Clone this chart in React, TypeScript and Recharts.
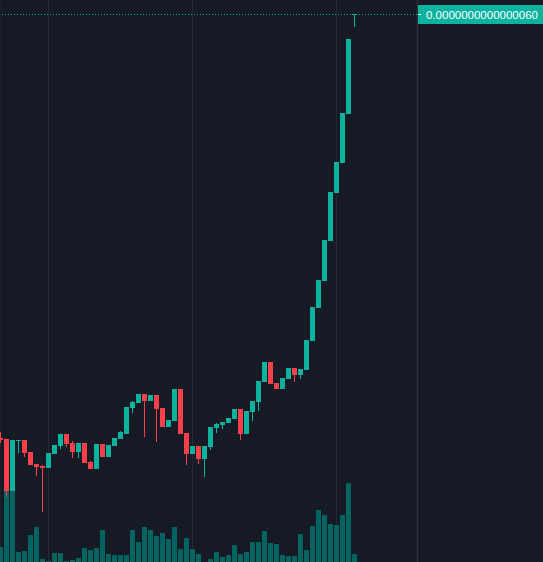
import { ComposedChart, Bar, XAxis, YAxis, CartesianGrid, ReferenceLine } from 'recharts'

// prices in units of 1e-16
const opens = [
  17.6, 17.5, 12.3, 17.3, 17.4, 16.2, 15.0, 14.8, 14.6, 16.0,
  16.8, 18.0, 17.1, 16.2, 17.1, 15.2, 14.5, 17.0, 15.7, 16.8,
  17.5, 18.0, 20.6, 21.1, 22.0, 21.3, 21.9, 20.6, 18.7, 19.3,
  22.5, 18.1, 16.0, 16.8, 15.5, 16.7, 18.6, 18.9, 19.1, 19.5,
  20.5, 18.0, 20.2, 21.2, 23.2, 25.2, 23.1, 22.5, 23.5, 24.6,
  23.9, 24.4, 27.3, 30.6, 33.3, 37.3, 42.1, 45.1, 50.0, 59.9,
]
const highs = [
  18.2, 17.5, 17.4, 17.4, 17.4, 16.2, 15.0, 14.9, 16.1, 16.9,
  18.0, 18.0, 17.3, 17.1, 17.1, 15.3, 17.0, 17.0, 16.9, 17.6,
  18.3, 20.7, 21.3, 22.0, 22.0, 21.9, 21.9, 20.6, 19.4, 22.5,
  22.5, 18.1, 16.8, 16.8, 16.8, 18.7, 19.1, 19.2, 19.6, 20.5,
  20.5, 20.3, 21.3, 23.3, 25.2, 25.2, 23.1, 23.6, 24.6, 24.6,
  24.5, 27.4, 30.7, 33.4, 37.4, 42.2, 45.2, 50.1, 57.5, 60.0,
]
const lows = [
  17.1, 11.7, 12.3, 16.1, 15.7, 14.9, 13.8, 10.2, 14.6, 16.0,
  16.5, 16.7, 15.6, 15.6, 15.1, 14.5, 14.5, 15.7, 15.7, 16.8,
  17.5, 18.0, 20.1, 21.1, 17.7, 21.3, 17.2, 18.7, 18.7, 19.3,
  18.0, 14.9, 16.0, 15.0, 13.7, 16.4, 18.1, 18.5, 19.1, 19.5,
  17.4, 18.0, 19.3, 20.3, 23.2, 23.0, 22.5, 22.5, 23.5, 23.2,
  23.5, 24.4, 27.3, 30.6, 33.3, 37.3, 42.1, 45.1, 50.0, 58.7,
]
const closes = [
  17.4, 12.3, 17.4, 17.4, 16.1, 14.9, 14.7, 14.6, 16.1, 16.9,
  18.0, 17.0, 16.2, 17.1, 15.1, 14.5, 17.0, 15.7, 16.9, 17.6,
  18.2, 20.7, 21.2, 22.0, 21.3, 21.9, 20.5, 18.7, 19.4, 22.5,
  18.0, 16.0, 16.8, 15.5, 16.8, 18.7, 19.0, 19.2, 19.6, 20.5,
  18.0, 20.3, 21.3, 23.3, 25.2, 23.0, 22.5, 23.6, 24.6, 23.9,
  24.5, 27.4, 30.7, 33.4, 37.4, 42.2, 45.2, 50.1, 57.5, 60.0,
]
const volumes = [
  15, 84, 80, 10, 11, 27, 35, 3, 1, 9,
  9, 1, 2, 4, 14, 12, 14, 32, 8, 7,
  7, 7, 32, 20, 35, 32, 26, 29, 23, 35,
  13, 24, 13, 8, 0, 3, 10, 5, 7, 17,
  8, 10, 20, 20, 31, 19, 18, 7, 6, 6,
  28, 12, 36, 52, 47, 38, 37, 47, 79, 8,
]
const lastPrice = 60
const lastPriceLabel = '0.0000000000000060'
const gridTicks = [8, 32, 56]

const UP = '#0bb39f'
const DOWN = '#f8404a'
const VOL = '#026460'
const BG = '#161a25'

const data = opens.map((o, i) => ({ i, o, h: highs[i], l: lows[i], c: closes[i], v: volumes[i] }))

function Candle(props: any) {
  const { x, y, width, height, payload } = props
  const top = Math.min(y, y + height)
  const bottom = Math.max(y, y + height)
  const range = payload.h - payload.l
  const toPx = (v: number) => (range > 0 ? top + ((payload.h - v) / range) * (bottom - top) : top)
  const left = Math.round(x + width / 2 - 2.4)
  const color = payload.c >= payload.o ? UP : DOWN
  const bodyTop = Math.round(toPx(Math.max(payload.o, payload.c)))
  const bodyBottom = Math.round(toPx(Math.min(payload.o, payload.c)))
  const wTop = Math.round(top)
  const wBottom = Math.round(bottom)
  return (
    <g>
      <rect x={left + 2} y={wTop} width={1} height={Math.max(1, wBottom - wTop)} fill={color} />
      <rect x={left} y={bodyTop} width={5} height={Math.max(1, bodyBottom - bodyTop)} fill={color} />
    </g>
  )
}

function VolumeBar(props: any) {
  const { x, y, width, height } = props
  if (!height) return null
  const left = Math.round(x + width / 2 - 2.4)
  return <rect x={left} y={y} width={5} height={height} fill={VOL} />
}

function PriceLine(props: any) {
  const { x1, y1, x2, y2 } = props
  return <line x1={x1} y1={y1 + 0.5} x2={x2} y2={y2 + 0.5} stroke={UP} strokeWidth={1} strokeDasharray="1 2" />
}

function PriceLabel(props: any) {
  const vb = props.viewBox || {}
  const x = vb.x + vb.width
  const y = vb.y
  return (
    <g>
      <rect x={x} y={y - 9} width={126} height={19} fill={UP} />
      <rect x={x} y={y} width={4} height={1} fill="#ffffff" />
      <text x={x + 9} y={y + 5} fill="#ffffff" fontSize={11.5} fontFamily="'Liberation Sans', Arial, sans-serif">
        {lastPriceLabel}
      </text>
    </g>
  )
}

export default function App() {
  return (
    <div style={{ position: 'absolute', left: 0, top: 0, width: 543, height: 562, background: BG, overflow: 'hidden' }}>
      <ComposedChart width={543} height={562} data={data} margin={{ top: 0, right: 0, bottom: 0, left: 0 }}>
        <XAxis xAxisId="x" dataKey="i" type="number" domain={[-1 / 12, 69.5 - 1 / 12]} allowDataOverflow ticks={gridTicks} hide />
        <XAxis xAxisId="v" dataKey="i" type="number" domain={[-1 / 12, 69.5 - 1 / 12]} allowDataOverflow hide />
        <YAxis
          yAxisId="p"
          orientation="right"
          width={126}
          domain={[5.2, 61.4]}
          allowDataOverflow
          tick={false}
          tickLine={false}
          axisLine={{ stroke: '#2a2e39', shapeRendering: 'crispEdges' }}
        />
        <YAxis yAxisId="v" domain={[0, 562]} allowDataOverflow hide />
        <CartesianGrid xAxisId="x" yAxisId="p" horizontal={false} stroke="#232733" />
        <Bar xAxisId="v" yAxisId="v" dataKey="v" barSize={5} shape={VolumeBar} isAnimationActive={false} />
        <Bar
          xAxisId="x"
          yAxisId="p"
          dataKey={(d: any) => [d.l, d.h]}
          barSize={5}
          shape={Candle}
          isAnimationActive={false}
        />
        <ReferenceLine
          xAxisId="x"
          yAxisId="p"
          y={lastPrice}
          shape={PriceLine}
          label={{ content: PriceLabel }}
        />
      </ComposedChart>
    </div>
  )
}
